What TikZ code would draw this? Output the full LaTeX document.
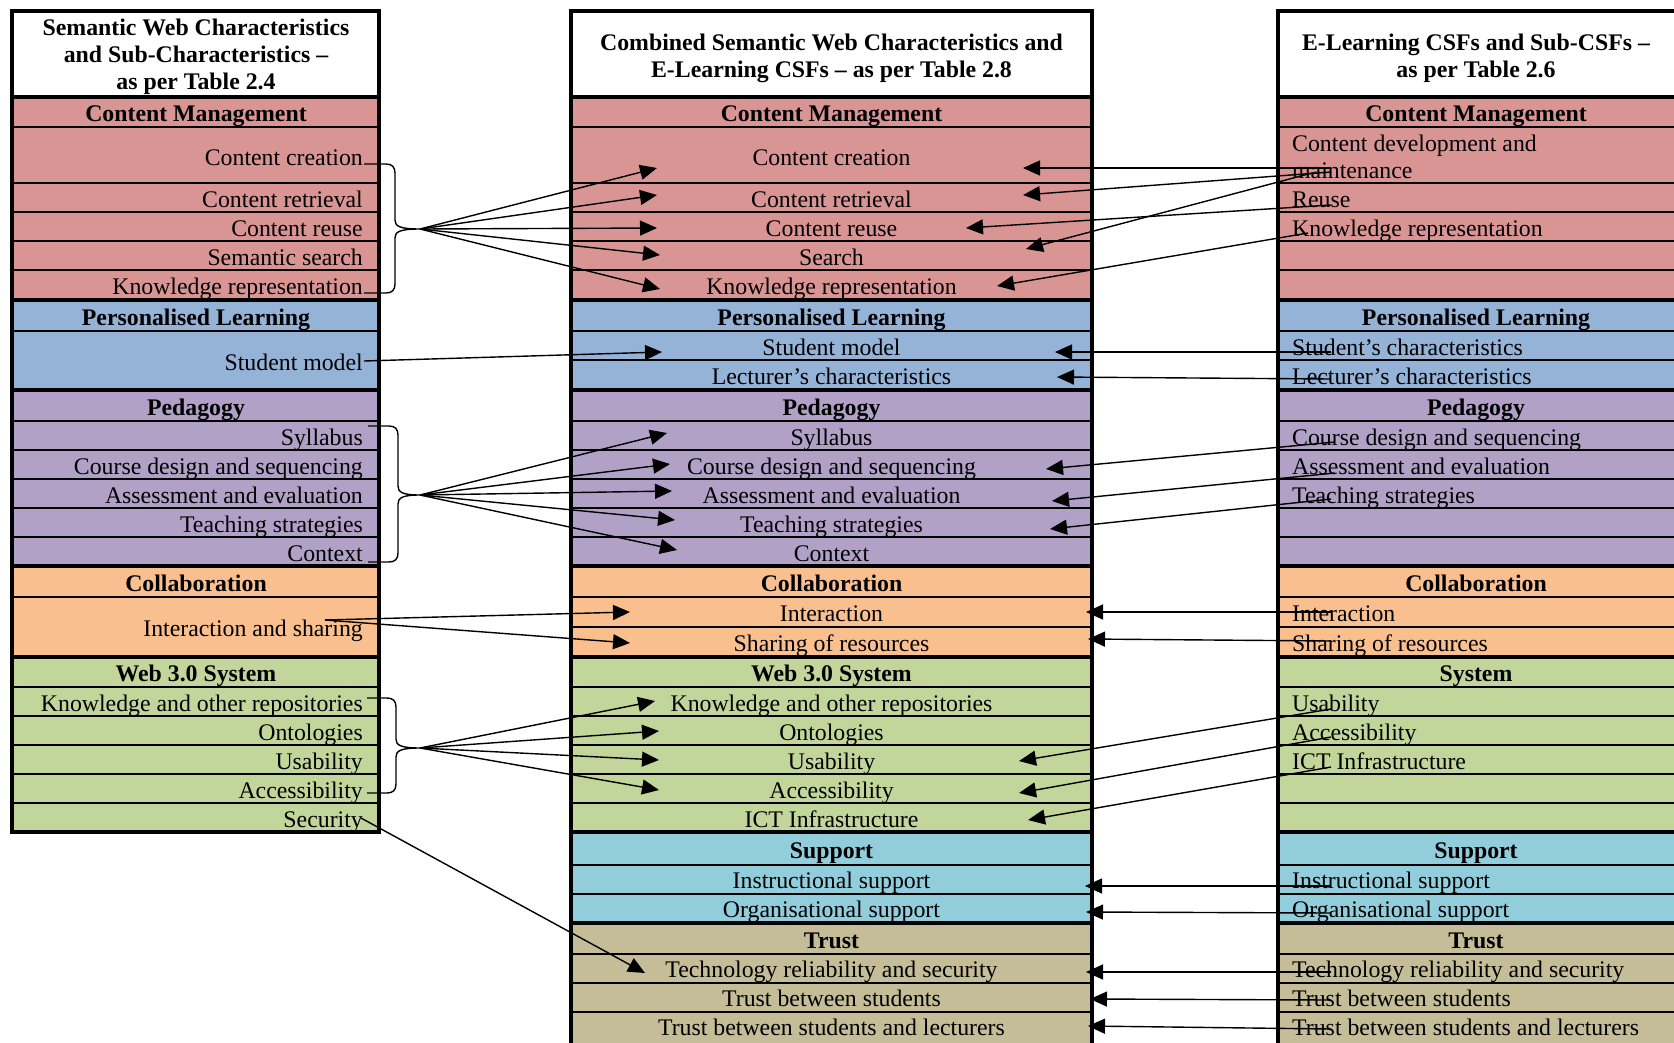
\documentclass[tikz,border=0pt]{standalone}
\usepackage{fontspec}
\setmainfont{Liberation Serif}
\usetikzlibrary{arrows.meta}

\definecolor{cmred}{HTML}{D99594}
\definecolor{plblue}{HTML}{95B3D7}
\definecolor{pedpurple}{HTML}{B2A1C7}
\definecolor{colorange}{HTML}{FABF8F}
\definecolor{webgreen}{HTML}{C2D69B}
\definecolor{supaqua}{HTML}{92CDDC}
\definecolor{trusttan}{HTML}{C4BD97}

% stacked lines with fixed baseline distance; node baseline = first line
\newcommand{\ctrlines}[1]{\vtop{\baselineskip=27pt\halign{\hfil##\hfil\cr#1\crcr}}}
\newcommand{\leftlines}[1]{\vtop{\baselineskip=27pt\halign{##\hfil\cr#1\crcr}}}

% curly brace: end x, spine x, tip x, top y, middle y, bottom y
\newcommand{\sbrace}[6]{%
  \draw[brc] (#1,#4) -- (#2-9,#4) .. controls (#2-3,#4) and (#2,#4+3) .. (#2,#4+9)
    -- (#2,#5-9) .. controls (#2,#5-3) and (#2+4,#5) .. (#3,#5)
    .. controls (#2+4,#5) and (#2,#5+3) .. (#2,#5+9)
    -- (#2,#6-9) .. controls (#2,#6-3) and (#2-3,#6) .. (#2-9,#6) -- (#1,#6);}

\tikzset{
  txt/.style={inner sep=0pt, font=\fontsize{23.8}{27}\selectfont},
  hdr/.style={inner sep=0pt, font=\fontsize{23.8}{27}\selectfont\bfseries, anchor=base},
  itemL/.style={txt, anchor=base east},
  itemC/.style={txt, anchor=base},
  itemR/.style={txt, anchor=base west},
  rowrule/.style={line width=1.5pt},
  secrule/.style={line width=3.5pt},
  conn/.style={line width=1.4pt, -{Triangle[length=17pt,width=15pt]}},
  brc/.style={line width=1.4pt},
}

\begin{document}
\begin{tikzpicture}[x=1pt,y=-1pt]
\useasboundingbox (0,0) rectangle (1674,1042);
\fill[white] (0,0) rectangle (1674,1042);

% ---------- left column: Semantic Web characteristics ----------
\foreach \ya/\yb/\c in {11/97/white,97/300/cmred,300/390/plblue,390/566/pedpurple,566/657/colorange,657/832/webgreen}
  \fill[\c] (12,\ya) rectangle (379,\yb);
\foreach \y in {127,183,212,241,270,331,421,450,479,508,537,597,687,716,745,774,803}
  \draw[rowrule] (12,\y) -- (379,\y);
\foreach \y in {97,300,390,566,657}
  \draw[secrule] (12,\y) -- (379,\y);
\draw[secrule] (12,11) rectangle (379,832);

% ---------- middle column: combined ----------
\foreach \ya/\yb/\c in {11/97/white,97/300/cmred,300/390/plblue,390/566/pedpurple,566/657/colorange,657/832/webgreen,832/923/supaqua,923/1050/trusttan}
  \fill[\c] (571,\ya) rectangle (1092,\yb);
\foreach \y in {127,183,212,241,270,331,360,421,450,479,508,537,597,627,687,716,745,774,803,865,894,954,983,1012}
  \draw[rowrule] (571,\y) -- (1092,\y);
\foreach \y in {97,300,390,566,657,832,923}
  \draw[secrule] (571,\y) -- (1092,\y);
\draw[secrule] (571,11) rectangle (1092,1050);

% ---------- right column: E-Learning CSFs ----------
\foreach \ya/\yb/\c in {11/97/white,97/300/cmred,300/390/plblue,390/566/pedpurple,566/657/colorange,657/832/webgreen,832/923/supaqua,923/1050/trusttan}
  \fill[\c] (1278,\ya) rectangle (1700,\yb);
\foreach \y in {127,183,212,241,270,331,360,421,450,479,508,537,597,627,687,716,745,774,803,865,894,954,983,1012}
  \draw[rowrule] (1278,\y) -- (1700,\y);
\foreach \y in {97,300,390,566,657,832,923}
  \draw[secrule] (1278,\y) -- (1700,\y);
\draw[secrule] (1278,11) rectangle (1700,1050);

% ---------- left column texts ----------
\node[hdr] (lt) at (196,35) {\ctrlines{Semantic Web Characteristics\cr and Sub-Characteristics –\cr as per Table 2.4}};
\node[hdr] (lcm) at (196,121) {Content Management};
\node[itemL] (lcm1) at (363,165) {Content creation};
\node[itemL] (lcm2) at (363,207) {Content retrieval};
\node[itemL] (lcm3) at (363,236) {Content reuse};
\node[itemL] (lcm4) at (363,265) {Semantic search};
\node[itemL] (lcm5) at (363,294) {Knowledge representation};
\node[hdr] (lpl) at (196,325) {Personalised Learning};
\node[itemL] (lpl1) at (363,370) {Student model};
\node[hdr] (lped) at (196,415) {Pedagogy};
\node[itemL] (lped1) at (363,445) {Syllabus};
\node[itemL] (lped2) at (363,474) {Course design and sequencing};
\node[itemL] (lped3) at (363,503) {Assessment and evaluation};
\node[itemL] (lped4) at (363,532) {Teaching strategies};
\node[itemL] (lped5) at (363,561) {Context};
\node[hdr] (lcol) at (196,591) {Collaboration};
\node[itemL] (lcol1) at (363,636) {Interaction and sharing};
\node[hdr] (lweb) at (196,681) {Web 3.0 System};
\node[itemL] (lweb1) at (363,711) {Knowledge and other repositories};
\node[itemL] (lweb2) at (363,740) {Ontologies};
\node[itemL] (lweb3) at (363,769) {Usability};
\node[itemL] (lweb4) at (363,798) {Accessibility};
\node[itemL] (lweb5) at (363,827) {Security};

% ---------- middle column texts ----------
\node[hdr] (mt) at (831.5,50) {\ctrlines{Combined Semantic Web Characteristics and\cr E-Learning CSFs – as per Table 2.8}};
\node[hdr] (mcm) at (831.5,121) {Content Management};
\node[itemC] (mcm1) at (831.5,165) {Content creation};
\node[itemC] (mcm2) at (831.5,207) {Content retrieval};
\node[itemC] (mcm3) at (831.5,236) {Content reuse};
\node[itemC] (mcm4) at (831.5,265) {Search};
\node[itemC] (mcm5) at (831.5,294) {Knowledge representation};
\node[hdr] (mpl) at (831.5,325) {Personalised Learning};
\node[itemC] (mpl1) at (831.5,355) {Student model};
\node[itemC] (mpl2) at (831.5,384) {Lecturer’s characteristics};
\node[hdr] (mped) at (831.5,415) {Pedagogy};
\node[itemC] (mped1) at (831.5,445) {Syllabus};
\node[itemC] (mped2) at (831.5,474) {Course design and sequencing};
\node[itemC] (mped3) at (831.5,503) {Assessment and evaluation};
\node[itemC] (mped4) at (831.5,532) {Teaching strategies};
\node[itemC] (mped5) at (831.5,561) {Context};
\node[hdr] (mcol) at (831.5,591) {Collaboration};
\node[itemC] (mcol1) at (831.5,621) {Interaction};
\node[itemC] (mcol2) at (831.5,651) {Sharing of resources};
\node[hdr] (mweb) at (831.5,681) {Web 3.0 System};
\node[itemC] (mweb1) at (831.5,711) {Knowledge and other repositories};
\node[itemC] (mweb2) at (831.5,740) {Ontologies};
\node[itemC] (mweb3) at (831.5,769) {Usability};
\node[itemC] (mweb4) at (831.5,798) {Accessibility};
\node[itemC] (mweb5) at (831.5,827) {ICT Infrastructure};
\node[hdr] (msup) at (831.5,858) {Support};
\node[itemC] (msup1) at (831.5,888) {Instructional support};
\node[itemC] (msup2) at (831.5,917) {Organisational support};
\node[hdr] (mtr) at (831.5,948) {Trust};
\node[itemC] (mtr1) at (831.5,977) {Technology reliability and security};
\node[itemC] (mtr2) at (831.5,1006) {Trust between students};
\node[itemC] (mtr3) at (831.5,1035) {Trust between students and lecturers};

% ---------- right column texts ----------
\node[hdr] (rt) at (1476,50) {\ctrlines{E-Learning CSFs and Sub-CSFs –\cr as per Table 2.6}};
\node[hdr] (rcm) at (1476,121) {Content Management};
\node[itemR] (rcm1) at (1292,151) {\leftlines{Content development and\cr maintenance}};
\node[itemR] (rcm2) at (1292,207) {Reuse};
\node[itemR] (rcm3) at (1292,236) {Knowledge representation};
\node[hdr] (rpl) at (1476,325) {Personalised Learning};
\node[itemR] (rpl1) at (1292,355) {Student’s characteristics};
\node[itemR] (rpl2) at (1292,384) {Lecturer’s characteristics};
\node[hdr] (rped) at (1476,415) {Pedagogy};
\node[itemR] (rped1) at (1292,445) {Course design and sequencing};
\node[itemR] (rped2) at (1292,474) {Assessment and evaluation};
\node[itemR] (rped3) at (1292,503) {Teaching strategies};
\node[hdr] (rcol) at (1476,591) {Collaboration};
\node[itemR] (rcol1) at (1292,621) {Interaction};
\node[itemR] (rcol2) at (1292,651) {Sharing of resources};
\node[hdr] (rsys) at (1476,681) {System};
\node[itemR] (rsys1) at (1292,711) {Usability};
\node[itemR] (rsys2) at (1292,740) {Accessibility};
\node[itemR] (rsys3) at (1292,769) {ICT Infrastructure};
\node[hdr] (rsup) at (1476,858) {Support};
\node[itemR] (rsup1) at (1292,888) {Instructional support};
\node[itemR] (rsup2) at (1292,917) {Organisational support};
\node[hdr] (rtr) at (1476,948) {Trust};
\node[itemR] (rtr1) at (1292,977) {Technology reliability and security};
\node[itemR] (rtr2) at (1292,1006) {Trust between students};
\node[itemR] (rtr3) at (1292,1035) {Trust between students and lecturers};

% ---------- braces grouping left sub-characteristics ----------
\sbrace{364}{395}{420}{164}{229}{293}
\sbrace{368}{398}{420}{426}{495}{562}
\sbrace{367}{396}{420}{698}{748}{793}

% ---------- connector end points ----------
\coordinate (fcm) at (420,229);
\coordinate (fped) at (420,495);
\coordinate (fweb) at (420,748);
\coordinate (sstud) at (364,361);
\coordinate (scol) at (325,620);
\coordinate (ssec) at (361,818);

\coordinate (tcm1) at (657,168);
\coordinate (tcm2) at (657,195);
\coordinate (tcm3) at (657,228);
\coordinate (tcm4) at (660,255);
\coordinate (tcm5) at (660,289);
\coordinate (tpl1) at (662,352);
\coordinate (tped1) at (667,433);
\coordinate (tped2) at (670,464);
\coordinate (tped3) at (672,491);
\coordinate (tped4) at (675,520);
\coordinate (tped5) at (677,550);
\coordinate (tcol1) at (630,612);
\coordinate (tcol2) at (630,643);
\coordinate (tweb1) at (655,701);
\coordinate (tweb2) at (659,731);
\coordinate (tweb3) at (659,760);
\coordinate (tweb4) at (659,790);
\coordinate (ttr1) at (645,973);

% left-pointing arrows: start in right column, tip in middle column
\coordinate (ra1) at (1331,168);  \coordinate (ta1) at (1023,168);
\coordinate (ra2) at (1331,172);  \coordinate (ta2) at (1023,195);
\coordinate (ra3) at (1331,205);  \coordinate (ta3) at (966,228);
\coordinate (ra4) at (1312,173);  \coordinate (ta4) at (1026,249);
\coordinate (ra5) at (1308,233);  \coordinate (ta5) at (997,286);
\coordinate (ra6) at (1331,352);  \coordinate (ta6) at (1055,352);
\coordinate (ra7) at (1331,379);  \coordinate (ta7) at (1057,377);
\coordinate (ra8) at (1335,442);  \coordinate (ta8) at (1046,469);
\coordinate (ra9) at (1335,473);  \coordinate (ta9) at (1052,501);
\coordinate (ra10) at (1331,499); \coordinate (ta10) at (1050,529);
\coordinate (ra11) at (1331,612); \coordinate (ta11) at (1086,612);
\coordinate (ra12) at (1331,641); \coordinate (ta12) at (1088,639);
\coordinate (ra13) at (1331,709); \coordinate (ta13) at (1019,761);
\coordinate (ra14) at (1331,737); \coordinate (ta14) at (1019,793);
\coordinate (ra15) at (1331,767); \coordinate (ta15) at (1028,820);
\coordinate (ra16) at (1331,886); \coordinate (ta16) at (1085,886);
\coordinate (ra17) at (1331,913); \coordinate (ta17) at (1086,912);
\coordinate (ra18) at (1331,972); \coordinate (ta18) at (1086,972);
\coordinate (ra19) at (1331,1000); \coordinate (ta19) at (1090,999);
\coordinate (ra20) at (1331,1029); \coordinate (ta20) at (1088,1026);

% ---------- connectors from the left column ----------
\foreach \t in {tcm1,tcm2,tcm3,tcm4,tcm5} \draw[conn] (fcm) -- (\t);
\draw[conn] (sstud) -- (tpl1);
\foreach \t in {tped1,tped2,tped3,tped4,tped5} \draw[conn] (fped) -- (\t);
\draw[conn] (scol) -- (tcol1);
\draw[conn] (scol) -- (tcol2);
\foreach \t in {tweb1,tweb2,tweb3,tweb4} \draw[conn] (fweb) -- (\t);
\draw[conn] (ssec) -- (ttr1);

% ---------- connectors from the right column ----------
\foreach \i in {1,...,20} \draw[conn] (ra\i) -- (ta\i);

\end{tikzpicture}
\end{document}
